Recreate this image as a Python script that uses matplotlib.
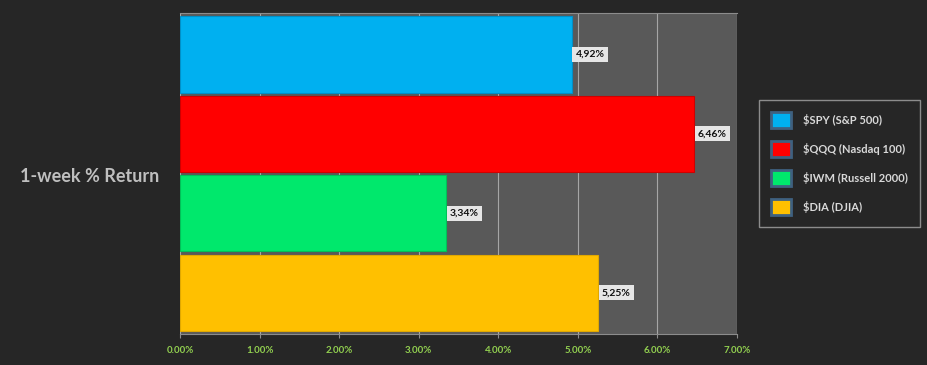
import matplotlib.pyplot as plt
from matplotlib.patches import Patch
from matplotlib.ticker import FuncFormatter

# =================================
# DATA
# =================================

tickers = ["$SPY (S&P 500)", "$QQQ (Nasdaq 100)", "$IWM (Russell 2000)", "$DIA (DJIA)"]
returns = [4.92, 6.46, 3.34, 5.25]
colors = ["#00b0f0", "#ff0000", "#00e86c", "#ffc000"]
edges = ["#0090c8", "#d00000", "#00c058", "#e0a800"]

plt.rcParams["font.family"] = ["Lato", "DejaVu Sans"]

# =================================
# PLOT
# =================================

fig = plt.figure(figsize=(9.27, 3.65), dpi=100, facecolor="#262626")
ax = fig.add_axes([0.1942, 0.085, 0.6009, 0.879])
ax.set_facecolor("#595959")

pos = list(range(len(tickers)))
ax.barh(pos, returns, height=0.96, color=colors, edgecolor=edges,
        linewidth=0.8, zorder=3)

for y, v in zip(pos, returns):
    ax.text(v + 0.05, y, f"{v:.2f}%".replace(".", ","),
            va="center", ha="left", fontsize=7.5, fontweight="bold",
            color="#111111", zorder=4,
            bbox=dict(boxstyle="square,pad=0.3", facecolor="#e6e6e6",
                      edgecolor="none"))

ax.set_xlim(0, 7)
ax.set_ylim(3.52, -0.52)
ax.set_xticks(range(8))
ax.xaxis.set_major_formatter(FuncFormatter(lambda x, p: f"{x:.2f}%"))
ax.set_yticks([])
ax.grid(axis="x", color="#a6a6a6", linewidth=0.8, zorder=1)

for side in ["left", "right"]:
    ax.spines[side].set_visible(False)
ax.spines["top"].set_color("#8c8c8c")
ax.spines["bottom"].set_color("#8c8c8c")

ax.tick_params(axis="x", colors="#8c8c8c", length=3, pad=6,
               labelcolor="#92d050", labelsize=7)
for lbl in ax.get_xticklabels():
    lbl.set_fontweight("bold")

fig.text(0.097, 0.517, "1-week % Return", ha="center", va="center",
         fontsize=13, fontweight="bold", color="#bfbfbf")

# =================================
# LEGEND
# =================================

handles = [Patch(facecolor=c, edgecolor="#3f6180", linewidth=2, label=t)
           for c, t in zip(colors, tickers)]
leg = fig.legend(handles=handles, loc="center left",
                 bbox_to_anchor=(0.815, 0.552), frameon=True,
                 fontsize=8, handlelength=1.8, handleheight=1.8,
                 labelspacing=1.2, handletextpad=1.15, borderpad=1.05,
                 borderaxespad=0.3, fancybox=False)
leg.get_frame().set_facecolor("#262626")
leg.get_frame().set_edgecolor("#a6a6a6")
for t in leg.get_texts():
    t.set_color("#d9d9d9")
    t.set_fontweight("bold")

plt.savefig("out.png", dpi=100, facecolor=fig.get_facecolor())
